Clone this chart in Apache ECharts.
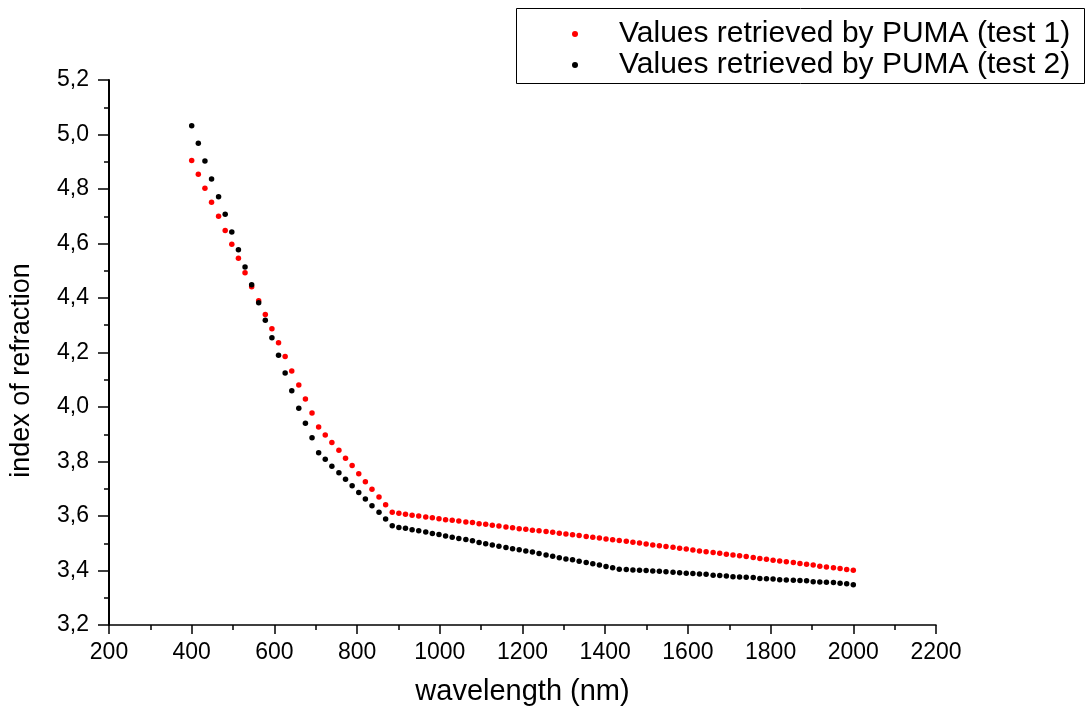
<!DOCTYPE html>
<html>
<head>
<meta charset="utf-8">
<title>index of refraction</title>
<script src="https://cdn.jsdelivr.net/npm/echarts@6/dist/echarts.min.js"></script>
<style>
html, body { margin: 0; padding: 0; background: #fff; }
#chart { width: 1086px; height: 711px; }
</style>
</head>
<body>
<div id="chart"></div>
<script>
// sample wavelengths (nm)
const wavelengths = [
  400, 416, 432, 448, 465, 481, 497, 513, 529, 545,
  562, 578, 594, 610, 626, 642, 659, 675, 691, 707,
  723, 739, 756, 772, 788, 804, 820, 836, 853, 869,
  885, 901, 917, 933, 949, 966, 982, 998, 1014, 1030,
  1046, 1063, 1079, 1095, 1111, 1127, 1143, 1160, 1176, 1192,
  1208, 1224, 1240, 1257, 1273, 1289, 1305, 1321, 1337, 1354,
  1370, 1386, 1402, 1418, 1434, 1451, 1467, 1483, 1499, 1515,
  1531, 1547, 1564, 1580, 1596, 1612, 1628, 1644, 1661, 1677,
  1693, 1709, 1725, 1741, 1758, 1774, 1790, 1806, 1822, 1838,
  1855, 1871, 1887, 1903, 1919, 1935, 1952, 1968, 1984, 2000
]

// test 1 (red)
const test1 = [
  4.905, 4.854, 4.803, 4.751, 4.700, 4.648, 4.597, 4.546, 4.493, 4.441,
  4.390, 4.339, 4.287, 4.236, 4.185, 4.132, 4.081, 4.029, 3.978, 3.927,
  3.897, 3.870, 3.841, 3.812, 3.785, 3.755, 3.726, 3.698, 3.670, 3.641,
  3.614, 3.610, 3.606, 3.603, 3.600, 3.596, 3.594, 3.590, 3.586, 3.584,
  3.582, 3.578, 3.576, 3.572, 3.570, 3.566, 3.563, 3.560, 3.557, 3.553,
  3.551, 3.548, 3.546, 3.543, 3.540, 3.537, 3.534, 3.531, 3.528, 3.525,
  3.522, 3.519, 3.516, 3.513, 3.510, 3.507, 3.504, 3.501, 3.497, 3.494,
  3.491, 3.488, 3.485, 3.482, 3.479, 3.475, 3.472, 3.469, 3.466, 3.463,
  3.460, 3.457, 3.454, 3.451, 3.448, 3.444, 3.441, 3.438, 3.435, 3.432,
  3.429, 3.426, 3.423, 3.420, 3.416, 3.413, 3.410, 3.407, 3.404, 3.401
]

// test 2 (black)
const test2 = [
  5.032, 4.968, 4.903, 4.837, 4.772, 4.707, 4.642, 4.577, 4.514, 4.449,
  4.383, 4.318, 4.254, 4.190, 4.125, 4.060, 3.995, 3.940, 3.887, 3.832,
  3.808, 3.783, 3.759, 3.735, 3.711, 3.686, 3.662, 3.638, 3.614, 3.589,
  3.564, 3.558, 3.555, 3.550, 3.546, 3.541, 3.536, 3.532, 3.527, 3.522,
  3.517, 3.514, 3.509, 3.503, 3.498, 3.494, 3.489, 3.484, 3.480, 3.476,
  3.472, 3.468, 3.462, 3.457, 3.452, 3.447, 3.442, 3.439, 3.434, 3.429,
  3.425, 3.420, 3.415, 3.410, 3.405, 3.404, 3.402, 3.401, 3.400, 3.398,
  3.397, 3.395, 3.394, 3.392, 3.390, 3.389, 3.387, 3.386, 3.383, 3.382,
  3.380, 3.377, 3.376, 3.375, 3.374, 3.371, 3.370, 3.369, 3.366, 3.365,
  3.364, 3.363, 3.362, 3.359, 3.358, 3.357, 3.356, 3.353, 3.351, 3.348
]

const seriesNames = ['Values retrieved by PUMA (test 1)', 'Values retrieved by PUMA (test 2)']

const font = '"Liberation Sans", Arial, sans-serif'

function pairs (ys) {
  return ys.map((v, i) => [wavelengths[i], v])
}

const chart = echarts.init(document.getElementById('chart'))
chart.setOption({
  animation: false,
  backgroundColor: '#fff',
  textStyle: { fontFamily: font, color: '#000' },
  grid: { left: 108, right: 150, top: 80, bottom: 86, containLabel: false },
  graphic: [{
    type: 'rect',
    left: 514,
    top: 6,
    shape: { width: 568, height: 75 },
    style: { fill: 'none', stroke: '#000', lineWidth: 1 }
  }],
  legend: {
    orient: 'vertical',
    left: 572,
    top: 19,
    padding: 0,
    itemGap: 1,
    itemWidth: 78,
    itemHeight: 6,
    icon: 'circle',
    textStyle: { fontFamily: font, fontSize: 30, color: '#000' },
    data: seriesNames
  },
  xAxis: {
    type: 'value',
    min: 200,
    max: 2200,
    interval: 200,
    name: 'wavelength (nm)',
    nameLocation: 'middle',
    nameGap: 52,
    nameTextStyle: { fontFamily: font, fontSize: 29, color: '#000' },
    axisLine: { show: true, lineStyle: { color: '#000', width: 1.5 } },
    axisTick: { show: true, length: 9, lineStyle: { color: '#000', width: 1.5 } },
    minorTick: { show: true, splitNumber: 2, length: 5, lineStyle: { color: '#000', width: 1.5 } },
    axisLabel: {
      margin: 16,
      fontFamily: font,
      fontSize: 23,
      color: '#000',
      formatter: v => String(v)
    },
    splitLine: { show: false }
  },
  yAxis: {
    type: 'value',
    min: 3.2,
    max: 5.2,
    interval: 0.2,
    name: 'index of refraction',
    nameLocation: 'middle',
    nameGap: 74,
    nameTextStyle: { fontFamily: font, fontSize: 27, color: '#000', padding: [0, 36, 0, 0] },
    axisLine: { show: true, lineStyle: { color: '#000', width: 2 } },
    axisTick: { show: true, length: 11, lineStyle: { color: '#000', width: 1.5 } },
    minorTick: { show: true, splitNumber: 2, length: 5, lineStyle: { color: '#000', width: 1.5 } },
    axisLabel: {
      margin: 20,
      fontFamily: font,
      fontSize: 23,
      color: '#000',
      formatter: v => v.toFixed(1).replace('.', ',')
    },
    splitLine: { show: false }
  },
  series: [
    {
      name: seriesNames[0],
      type: 'scatter',
      symbol: 'circle',
      symbolSize: 5.5,
      itemStyle: { color: '#ff0000', opacity: 1 },
      data: pairs(test1)
    },
    {
      name: seriesNames[1],
      type: 'scatter',
      symbol: 'circle',
      symbolSize: 5.5,
      itemStyle: { color: '#000', opacity: 1 },
      data: pairs(test2)
    }
  ]
})
</script>
</body>
</html>
